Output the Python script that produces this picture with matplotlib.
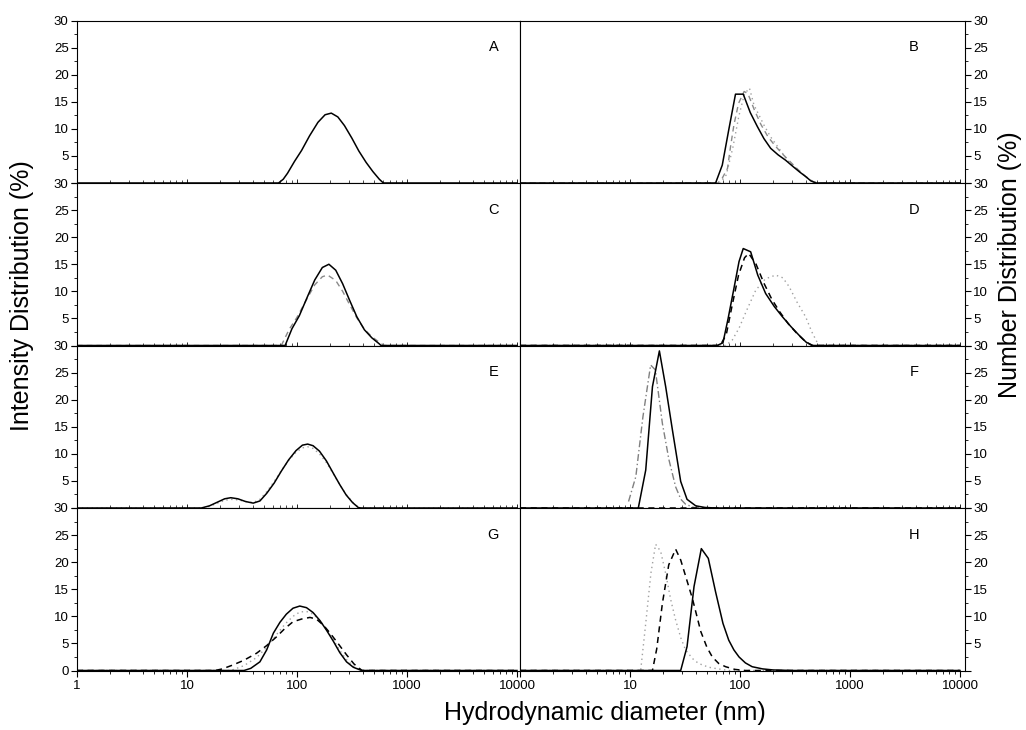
import matplotlib
matplotlib.use("Agg")
import matplotlib.pyplot as plt
from matplotlib.ticker import FixedLocator, NullFormatter, LogLocator, MultipleLocator

plt.rcParams['font.family'] = ['Liberation Sans', 'DejaVu Sans']

# ---- data (diameter nm, %) ----
a_solid_d = [1, 68, 75, 82, 95, 110, 130, 155, 180, 205, 235, 270, 315, 365, 425, 490, 560, 610, 10000]
a_solid_y = [0, 0, 0.7, 1.8, 4.0, 6.0, 8.7, 11.2, 12.6, 12.9, 12.2, 10.6, 8.3, 5.9, 3.8, 2.1, 0.7, 0, 0]

b_solid_d = [1, 60, 69, 79, 91, 107, 124, 144, 165, 190, 222, 260, 305, 350, 395, 440, 490, 10000]
b_solid_y = [0, 0, 3.3, 9.8, 16.4, 16.4, 13.0, 10.4, 8.2, 6.4, 5.2, 4.2, 3.0, 2.0, 1.2, 0.4, 0, 0]
b_dash_d = [1, 63, 69, 77, 82, 88, 97, 109, 118, 135, 155, 180, 210, 245, 290, 340, 400, 460, 500, 10000]
b_dash_y = [0, 0, 0.9, 2.7, 6.7, 10.7, 14.7, 16.9, 16.5, 13.5, 10.8, 8.5, 6.8, 5.3, 3.8, 2.4, 1.1, 0.3, 0, 0]
b_dot_d = [1, 66, 75, 86, 98, 110, 122, 134, 165, 190, 226, 269, 320, 380, 440, 500, 10000]
b_dot_y = [0, 0, 1.5, 6.5, 12.5, 16.5, 17.5, 14.4, 10.7, 8.5, 6.4, 4.2, 2.8, 1.5, 0.5, 0, 0]

c_solid_d = [1, 78, 90, 105, 125, 145, 170, 195, 225, 260, 300, 350, 410, 480, 560, 580, 10000]
c_solid_y = [0, 0, 3.1, 5.5, 9.1, 12.1, 14.4, 15.0, 13.9, 11.4, 8.4, 5.3, 2.9, 1.4, 0.3, 0, 0]
c_dash_d = [1, 72, 85, 100, 120, 145, 170, 190, 225, 260, 300, 350, 410, 480, 560, 620, 10000]
c_dash_y = [0, 0, 3.0, 5.2, 8.2, 11.2, 12.7, 13.0, 12.0, 10.0, 7.6, 5.1, 3.0, 1.6, 0.6, 0, 0]

d_solid_d = [1, 62, 70, 78, 88, 98, 107, 125, 145, 171, 205, 243, 290, 344, 400, 460, 10000]
d_solid_y = [0, 0, 0.5, 5.0, 10.5, 15.5, 17.9, 17.3, 13.0, 9.6, 7.2, 5.3, 3.5, 1.9, 0.6, 0, 0]
d_dash_d = [1, 66, 75, 85, 97, 110, 120, 140, 165, 195, 230, 275, 330, 390, 450, 10000]
d_dash_y = [0, 0, 2.0, 7.5, 13.0, 16.2, 17.0, 15.0, 11.5, 8.5, 6.2, 4.0, 2.2, 0.8, 0, 0]
d_dot_d = [1, 74, 85, 98, 115, 139, 170, 211, 245, 279, 330, 395, 450, 520, 10000]
d_dot_y = [0, 0, 1.0, 3.2, 6.5, 10.2, 12.3, 13.0, 12.5, 10.9, 8.0, 5.3, 2.5, 0, 0]

e_solid_d = [1, 13.5, 16, 19, 22, 25, 29, 34, 40, 46, 53, 62, 72, 84, 98, 112, 125, 140, 160, 185, 214, 245, 280, 320, 360, 380, 10000]
e_solid_y = [0, 0, 0.4, 1.1, 1.7, 1.9, 1.7, 1.2, 0.9, 1.3, 2.7, 4.6, 6.8, 8.9, 10.6, 11.6, 11.8, 11.5, 10.5, 8.7, 6.4, 4.3, 2.4, 1.0, 0.1, 0, 0]
e_dot_d = [1, 14, 16, 19, 22, 25, 29, 34, 40, 46, 53, 62, 72, 84, 98, 112, 125, 140, 160, 185, 214, 245, 280, 320, 370, 10000]
e_dot_y = [0, 0, 0.3, 0.9, 1.4, 1.6, 1.5, 1.2, 1.0, 1.6, 3.0, 4.9, 6.9, 8.8, 10.3, 11.1, 11.3, 11.0, 10.0, 8.4, 6.3, 4.3, 2.5, 1.1, 0, 0]

f_solid_d = [1, 11.9, 13.9, 16, 18.5, 21.1, 24.3, 28.9, 33, 39.6, 48, 60, 10000]
f_solid_y = [0, 0, 7.0, 22.4, 29.0, 22.4, 14.4, 4.9, 1.6, 0.4, 0.1, 0, 0]
f_dashdot_d = [9.7, 11.3, 13.1, 15.4, 17, 19.7, 22.6, 26, 29, 32, 38, 45]
f_dashdot_y = [1.2, 5.8, 16.8, 26.4, 25.5, 15.6, 8.9, 3.9, 1.6, 0.7, 0.1, 0]
f_dash_d = [1, 10000]
f_dash_y = [0, 0]

g_solid_d = [1, 33, 38, 46, 53, 61, 70, 80, 92, 106, 122, 140, 162, 186, 214, 245, 282, 325, 375, 390, 10000]
g_solid_y = [0, 0, 0.4, 1.6, 3.8, 6.9, 8.9, 10.4, 11.5, 11.9, 11.6, 10.7, 9.2, 7.4, 5.4, 3.3, 1.6, 0.6, 0.1, 0, 0]
g_dash_d = [1, 18, 21, 26, 33, 43, 53, 65, 78, 92, 110, 131, 150, 175, 200, 240, 282, 330, 390, 10000]
g_dash_y = [0, 0, 0.3, 1.0, 1.9, 3.2, 4.6, 6.2, 7.8, 9.0, 9.5, 9.8, 9.5, 8.3, 6.9, 4.8, 2.9, 1.2, 0, 0]
g_dot_d = [1, 25, 33, 43, 53, 65, 78, 92, 106, 122, 140, 162, 186, 214, 245, 282, 330, 390, 10000]
g_dot_y = [0, 0, 0.9, 2.4, 4.3, 6.6, 8.6, 10.0, 10.8, 10.9, 10.4, 9.2, 7.6, 5.7, 3.7, 2.0, 0.7, 0, 0]

h_solid_d = [1, 28.9, 33, 38.2, 44.5, 51.5, 60, 70, 79, 88, 98, 112, 129, 160, 200, 300, 10000]
h_solid_y = [0, 0, 4.4, 15.5, 22.5, 20.7, 14.5, 8.7, 5.6, 3.8, 2.5, 1.4, 0.7, 0.3, 0.1, 0, 0]
h_dash_d = [1, 16, 17.5, 19.7, 22.5, 26, 28.9, 32.5, 36.9, 44, 50, 56, 64, 74, 90, 112, 10000]
h_dash_y = [0, 0, 4.0, 12.4, 19.5, 22.4, 20.4, 17.0, 13.3, 7.2, 4.3, 2.5, 1.3, 0.7, 0.2, 0, 0]
h_dot_d = [1, 12.5, 13.9, 15.5, 17.1, 19, 21.1, 23.5, 26, 29, 32, 37, 42, 52, 63, 80, 10000]
h_dot_y = [0, 0, 8.7, 18.0, 23.3, 22.0, 17.9, 13.0, 9.3, 6.0, 3.8, 2.2, 1.3, 0.6, 0.3, 0, 0]

panel_letters = ['A', 'B', 'C', 'D', 'E', 'F', 'G', 'H']
xtick_vals = [1, 10, 100, 1000, 10000]

# line styles
SOLID = dict(color='black', lw=1.1, ls='-')
DASH = dict(color='black', lw=1.1, ls=(0, (4, 3)))
DASH_GRAY = dict(color='#8a8a8a', lw=1.0, ls=(0, (4, 3)))
DOT_GRAY = dict(color='#a0a0a0', lw=1.0, ls=(0, (1, 2.5)))
DASHDOT_GRAY = dict(color='#808080', lw=1.0, ls=(0, (5, 2, 1, 2)))

panels = {
    'A': [(a_solid_d, a_solid_y, SOLID)],
    'B': [(b_dot_d, b_dot_y, DOT_GRAY), (b_dash_d, b_dash_y, DASH_GRAY), (b_solid_d, b_solid_y, SOLID)],
    'C': [(c_dash_d, c_dash_y, DASH_GRAY), (c_solid_d, c_solid_y, SOLID)],
    'D': [(d_dot_d, d_dot_y, DOT_GRAY), (d_dash_d, d_dash_y, DASH), (d_solid_d, d_solid_y, SOLID)],
    'E': [(e_dot_d, e_dot_y, DOT_GRAY), (e_solid_d, e_solid_y, SOLID)],
    'F': [(f_dashdot_d, f_dashdot_y, DASHDOT_GRAY), (f_solid_d, f_solid_y, SOLID), (f_dash_d, f_dash_y, DASH)],
    'G': [(g_dot_d, g_dot_y, DOT_GRAY), (g_dash_d, g_dash_y, DASH), (g_solid_d, g_solid_y, SOLID)],
    'H': [(h_dot_d, h_dot_y, DOT_GRAY), (h_dash_d, h_dash_y, DASH), (h_solid_d, h_solid_y, SOLID)],
}

W, H = 1026, 730
fig = plt.figure(figsize=(W / 100, H / 100), dpi=100)

top0 = 20.5
row_h = 162.5
cols = [(77, 520), (520, 965)]

for idx, letter in enumerate(panel_letters):
    row, col = divmod(idx, 2)
    x0, x1 = cols[col]
    y_top = top0 + row * row_h
    ax = fig.add_axes([x0 / W, 1 - (y_top + row_h) / H, (x1 - x0) / W, row_h / H])
    for d, y, st in panels[letter]:
        ax.plot(d, y, **st)
    ax.set_xscale('log')
    ax.set_xlim(1, 10 ** ((x1 - x0) / 110.0))
    ax.set_ylim(0, 30)

    # x ticks
    ax.xaxis.set_major_locator(FixedLocator(xtick_vals))
    ax.xaxis.set_minor_locator(LogLocator(base=10, subs=range(2, 10), numticks=20))
    ax.xaxis.set_minor_formatter(NullFormatter())
    if row == 3:
        labels = [str(v) for v in xtick_vals]
        if col == 1:
            labels[0] = ''
        ax.set_xticklabels(labels)
        ax.tick_params(axis='x', which='major', direction='out', length=4, width=0.8, labelsize=9.5, pad=3)
        ax.tick_params(axis='x', which='minor', direction='out', length=2.5, width=0.6)
    else:
        ax.set_xticklabels([])
        ax.tick_params(axis='x', which='major', direction='in', length=3, width=0.6)
        ax.tick_params(axis='x', which='minor', direction='in', length=2, width=0.5)

    # y ticks
    ax.yaxis.set_major_locator(MultipleLocator(5))
    ax.yaxis.set_minor_locator(MultipleLocator(2.5))
    ytk = [0, 5, 10, 15, 20, 25, 30]
    ylab = [str(v) for v in ytk]
    if not (col == 0 and row == 3):
        ylab[0] = ''
    ax.set_yticks(ytk)
    ax.set_yticklabels(ylab)
    if col == 1:
        ax.yaxis.tick_right()
        ax.yaxis.set_label_position('right')
    ax.tick_params(axis='y', which='major', direction='out', length=4, width=0.8, labelsize=9.5, pad=2)
    ax.tick_params(axis='y', which='minor', direction='out', length=2.5, width=0.6)

    for s in ax.spines.values():
        s.set_linewidth(0.8)

    lx = 0.94 if col == 0 else 0.885
    ax.text(lx, 0.835, letter, transform=ax.transAxes, fontsize=10.5, ha='center', va='center')

fig.text(605 / W, 1 - 713 / H, 'Hydrodynamic diameter (nm)', fontsize=18, ha='center', va='center')
fig.text(22 / W, 1 - 296 / H, 'Intensity Distribution (%)', fontsize=18, rotation=90, ha='center', va='center')
fig.text(1010 / W, 1 - 265 / H, 'Number Distribution (%)', fontsize=18, rotation=90, ha='center', va='center')

fig.savefig('out.png', dpi=100)
